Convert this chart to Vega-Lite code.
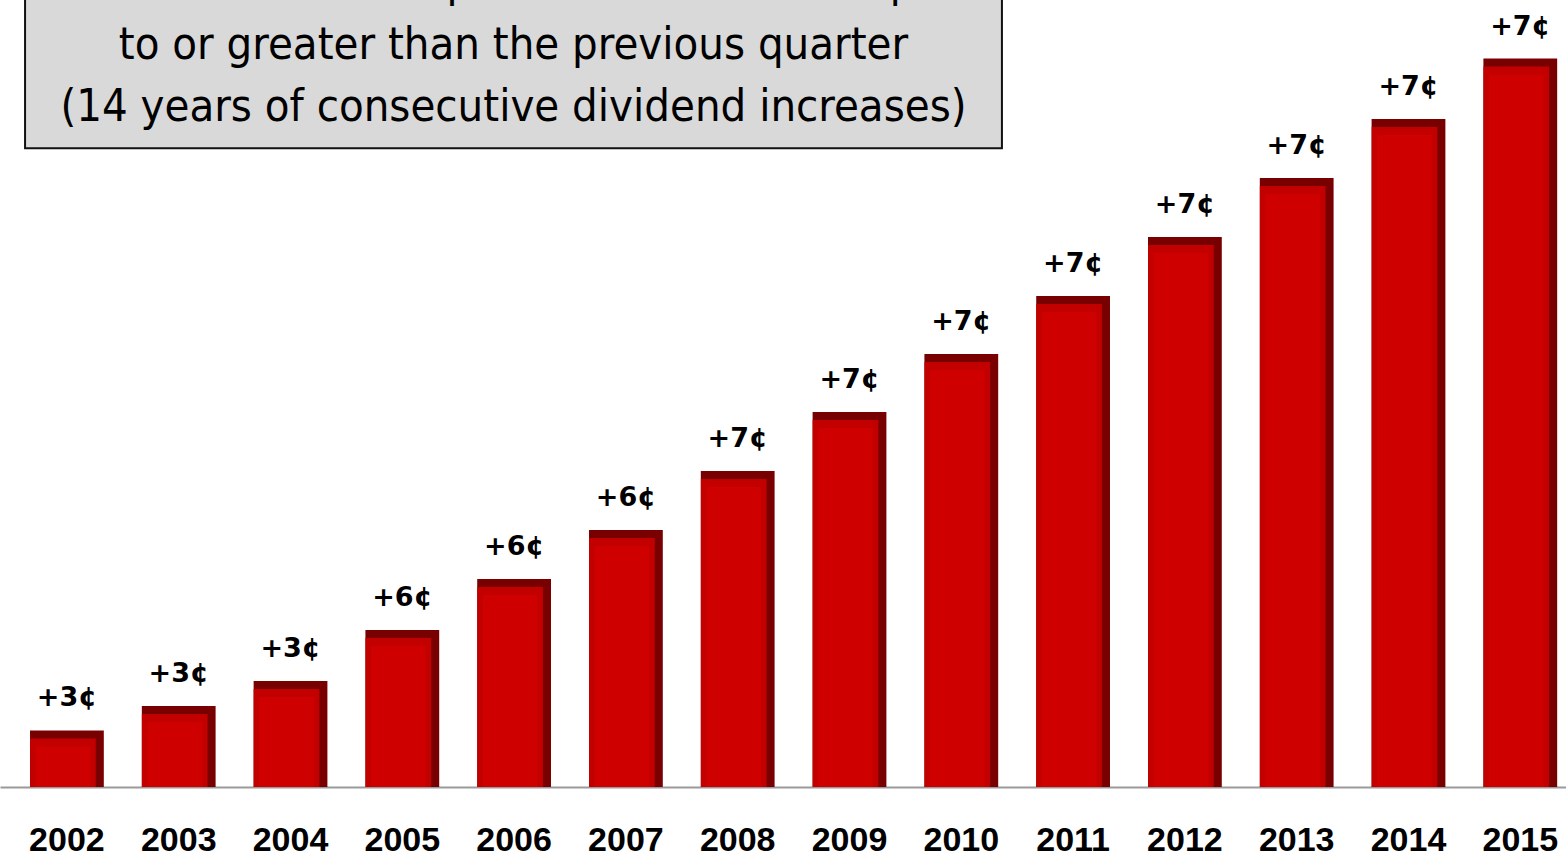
{
  "$schema": "https://vega.github.io/schema/vega-lite/v6.json",
  "autosize": {"type": "none"},
  "padding": {"left": 0, "top": 0, "right": 0, "bottom": 70},
  "width": 1566,
  "height": 787,
  "background": "white",
  "config": {"view": {"stroke": null}},
  "data": {
    "values": [
      {"year": "2002", "dividend": 6.75, "label": "+3¢"},
      {"year": "2003", "dividend": 9.67, "label": "+3¢"},
      {"year": "2004", "dividend": 12.66, "label": "+3¢"},
      {"year": "2005", "dividend": 18.75, "label": "+6¢"},
      {"year": "2006", "dividend": 24.84, "label": "+6¢"},
      {"year": "2007", "dividend": 30.7, "label": "+6¢"},
      {"year": "2008", "dividend": 37.74, "label": "+7¢"},
      {"year": "2009", "dividend": 44.79, "label": "+7¢"},
      {"year": "2010", "dividend": 51.72, "label": "+7¢"},
      {"year": "2011", "dividend": 58.65, "label": "+7¢"},
      {"year": "2012", "dividend": 65.69, "label": "+7¢"},
      {"year": "2013", "dividend": 72.74, "label": "+7¢"},
      {"year": "2014", "dividend": 79.79, "label": "+7¢"},
      {"year": "2015", "dividend": 87.0, "label": "+7¢"}
    ]
  },
  "resolve": {"scale": {"x": "independent"}, "axis": {"x": "independent"}},
  "layer": [
    {
      "resolve": {"scale": {"x": "shared", "y": "shared"}},
      "encoding": {
        "x": {
          "field": "year", "type": "ordinal",
          "scale": {"paddingInner": 0.34, "paddingOuter": 0.1737, "align": 0.773},
          "axis": {
            "title": null, "ticks": false, "tickSize": 0, "labelAngle": 0,
            "labelFont": "Liberation Sans", "labelFontWeight": "bold", "labelFontSize": 34,
            "labelColor": "#000000", "labelBaseline": "alphabetic", "labelPadding": 63,
            "domainColor": "#9a9a9a", "domainWidth": 2
          }
        },
        "y": {"field": "dividend", "type": "quantitative", "scale": {"domain": [0, 94]}, "axis": null}
      },
      "layer": [
        {"mark": {"type": "bar", "color": "#780000"}},
        {"mark": {"type": "bar", "color": "#c20000", "width": {"band": 0.89}, "xOffset": -4, "yOffset": 8, "clip": true}},
        {"mark": {"type": "bar", "color": "#cf0000", "width": {"band": 0.74}, "xOffset": -4, "yOffset": 16, "clip": true}},
        {
          "mark": {"type": "text", "font": "DejaVu Sans", "fontWeight": "bold", "fontSize": 27, "color": "#000000", "baseline": "alphabetic", "dy": -24},
          "encoding": {"text": {"field": "label"}}
        }
      ]
    },
    {
      "data": {"values": [{"box": "note"}]},
      "resolve": {"scale": {"x": "shared", "y": "shared"}},
      "layer": [
        {
          "mark": {"type": "rect", "fill": "#d9d9d9", "stroke": "#111111", "strokeWidth": 2, "clip": true},
          "encoding": {
            "x": {"datum": 0.016, "type": "quantitative", "scale": {"domain": [0, 1]}, "axis": null},
            "x2": {"datum": 0.6398},
            "y": {"datum": 76.3, "type": "quantitative", "scale": {"domain": [0, 94]}, "axis": null},
            "y2": {"datum": 100}
          }
        },
        {
          "mark": {
            "type": "text", "font": "Liberation Sans Narrow, DejaVu Sans Condensed, Liberation Sans", "fontSize": 45, "color": "#000000",
            "align": "center", "baseline": "alphabetic", "lineHeight": 62, "clip": true,
            "text": ["The cash dividend per share has been equal", "to or greater than the previous quarter", "(14 years of consecutive dividend increases)"]
          },
          "encoding": {
            "x": {"datum": 0.3279, "type": "quantitative", "scale": {"domain": [0, 1]}, "axis": null},
            "y": {"datum": 94.33, "type": "quantitative", "scale": {"domain": [0, 94]}, "axis": null}
          }
        }
      ]
    }
  ]
}
